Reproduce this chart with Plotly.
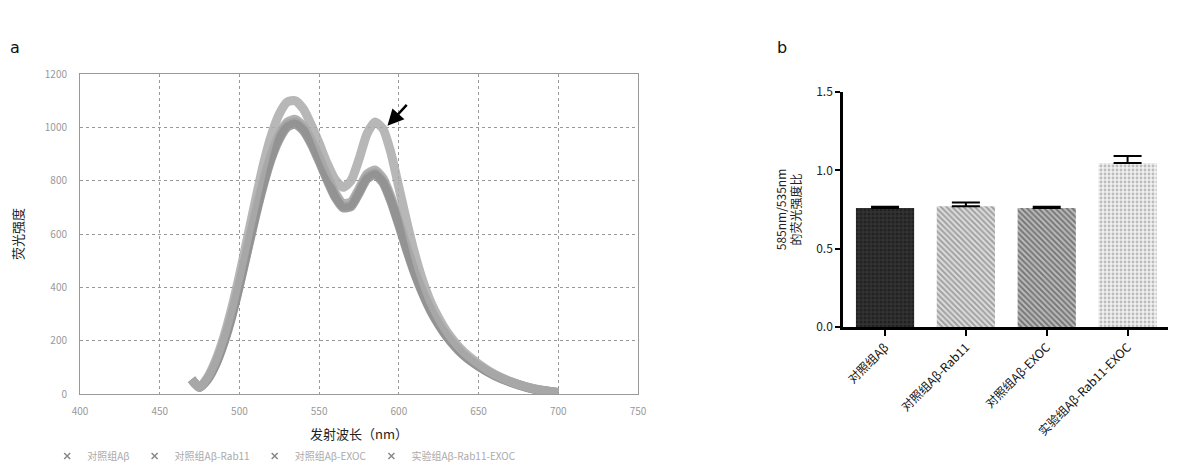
import plotly.graph_objects as go

W, H = 1180, 475

# ---------- panel a data ----------
wavelength = [470, 475, 480, 485, 490, 495, 500, 505, 510, 515, 520, 525, 530, 535, 540, 545, 550, 555,
              560, 565, 570, 575, 580, 585, 590, 595, 600, 605, 610, 615, 620, 625, 630, 640, 650,
              660, 670, 680, 690, 700]
ctrl_ab = [55, 25, 55, 110, 190, 290, 410, 540, 670, 790, 890, 965, 1010, 1020, 995, 945, 880, 810,
           745, 705, 710, 760, 815, 830, 800, 730, 640, 545, 455, 380, 315, 262, 218, 150, 105,
           70, 45, 26, 13, 6]
ctrl_ab_rab11 = [55, 25, 58, 115, 195, 295, 418, 548, 680, 800, 900, 975, 1020, 1030, 1005, 955, 890, 820,
                 755, 715, 720, 770, 825, 840, 810, 740, 648, 552, 462, 385, 320, 266, 222, 152, 107,
                 72, 46, 27, 14, 6]
ctrl_ab_exoc = [55, 25, 54, 108, 186, 285, 405, 535, 664, 782, 882, 955, 1000, 1012, 988, 938, 872, 802,
                738, 698, 702, 752, 806, 822, 792, 722, 632, 538, 450, 375, 311, 259, 215, 148, 103,
                69, 44, 25, 12, 5]
exp_ab_rab11_exoc = [55, 25, 62, 125, 210, 318, 445, 585, 725, 860, 970, 1050, 1095, 1100, 1070, 1010, 940, 865,
                     805, 775, 800, 880, 975, 1020, 995, 905, 775, 645, 525, 425, 345, 285, 235, 162, 113,
                     74, 47, 27, 13, 5]
series_names = ["对照组Aβ", "对照组Aβ-Rab11", "对照组Aβ-EXOC", "实验组Aβ-Rab11-EXOC"]
series_values = [ctrl_ab, ctrl_ab_rab11, ctrl_ab_exoc, exp_ab_rab11_exoc]
a_xticks = [400, 450, 500, 550, 600, 650, 700, 750]
a_yticks = [0, 200, 400, 600, 800, 1000, 1200]

# ---------- panel b data ----------
groups = ["对照组Aβ", "对照组Aβ-Rab11", "对照组Aβ-EXOC", "实验组Aβ-Rab11-EXOC"]
ratio = [0.76, 0.77, 0.76, 1.047]
ratio_err = [0.008, 0.025, 0.008, 0.045]
b_yticks = [0.0, 0.5, 1.0, 1.5]

fig = go.Figure()

line_colors = ["#9a9a9a", "#a5a5a5", "#909090", "#ababab"]
for name, vals, c in zip(series_names, series_values, line_colors):
    fig.add_trace(go.Scatter(x=wavelength, y=vals, mode="lines", name=name,
                             line=dict(color=c, width=9, shape="spline", smoothing=0.6),
                             opacity=0.85, showlegend=False, xaxis="x", yaxis="y"))
# legend entries (× markers)
for name in series_names:
    fig.add_trace(go.Scatter(x=[None], y=[None], mode="markers", name=name,
                             marker=dict(symbol="x-thin", size=6, color="#888",
                                         line=dict(color="#888", width=1.5)),
                             xaxis="x", yaxis="y", showlegend=True))

patterns = [
    dict(shape=".", fgcolor="#111", bgcolor="#333", size=4, solidity=0.5),
    dict(shape="\\", fgcolor="#666", bgcolor="#ddd", size=4, solidity=0.5),
    dict(shape="\\", fgcolor="#333", bgcolor="#bbb", size=4, solidity=0.5),
    dict(shape=".", fgcolor="#888", bgcolor="#f0f0f0", size=4, solidity=0.4),
]
for i, (g, v, e, p) in enumerate(zip(groups, ratio, ratio_err, patterns)):
    fig.add_trace(go.Bar(x=[i], y=[v], width=0.72, showlegend=False,
                         marker=dict(color=p["bgcolor"], pattern=p, line=dict(width=0)),
                         error_y=dict(type="data", array=[e], arrayminus=[0], symmetric=False,
                                      color="#000", thickness=2, width=14),
                         xaxis="x2", yaxis="y2"))

grid = dict(showgrid=True, gridcolor="#999", griddash="dot", gridwidth=1)

fig.update_layout(
    width=W, height=H, margin=dict(l=0, r=0, t=0, b=0, autoexpand=False),
    paper_bgcolor="white", plot_bgcolor="white",
    font=dict(family="Noto Sans CJK SC, sans-serif", color="#333"),
    showlegend=True,
    legend=dict(orientation="h", x=0.04, y=1 - 456 / H, xanchor="left", yanchor="middle",
                font=dict(size=10, color="#aaa"), itemwidth=30, tracegroupgap=0,
                bgcolor="rgba(0,0,0,0)"),
    xaxis=dict(domain=[80 / W, 638 / W], range=[400, 750], tickvals=a_xticks,
               ticks="", tickfont=dict(size=10, color="#999"), zeroline=False,
               showline=True, linecolor="#999", mirror=True, **grid, automargin=False,
               ticklabelstandoff=8,
               title=dict(text="发射波长（nm）", font=dict(size=13, color="#222"), standoff=12),
               anchor="y"),
    yaxis=dict(domain=[1 - 394 / H, 1 - 74 / H], range=[0, 1200], tickvals=a_yticks,
               ticks="", tickfont=dict(size=10, color="#999"), zeroline=False,
               showline=True, linecolor="#999", mirror=True, **grid, automargin=False,
               ticklabelstandoff=10,
               title=dict(text="荧光强度", font=dict(size=13, color="#222"), standoff=18),
               anchor="x"),
    xaxis2=dict(domain=[843 / W, 1168 / W], range=[-0.52, 3.5], tickvals=[0, 1, 2, 3],
                ticktext=groups, tickangle=-45, ticks="outside", ticklen=6, tickwidth=2,
                tickcolor="#000", showline=True, linecolor="#000", linewidth=2.5,
                showgrid=False, zeroline=False, tickfont=dict(size=12, color="#111"),
                automargin=False, anchor="y2"),
    yaxis2=dict(domain=[1 - 327 / H, 1 - 92 / H], range=[0, 1.5], tickvals=b_yticks,
                tickformat=".1f", ticks="outside", ticklen=5, tickwidth=2, tickcolor="#000",
                showline=True, linecolor="#000", linewidth=2.5, showgrid=False, zeroline=False,
                tickfont=dict(size=12, color="#222"), automargin=False,
                title=dict(text="585nm/535nm<br>的荧光强度比", font=dict(size=12, color="#222"),
                           standoff=12),
                anchor="x2"),
    bargap=0.28,
    annotations=[
        dict(text="a", x=15 / W, y=1 - 47 / H, xref="paper", yref="paper", showarrow=False,
             font=dict(size=16, color="#111", family="DejaVu Sans"), xanchor="center", yanchor="middle"),
        dict(text="b", x=782 / W, y=1 - 47 / H, xref="paper", yref="paper", showarrow=False,
             font=dict(size=16, color="#111", family="DejaVu Sans"), xanchor="center", yanchor="middle"),
        dict(x=592, y=1000, xref="x", yref="y", text="", showarrow=True, arrowhead=2,
             arrowsize=1.3, arrowwidth=2.5, arrowcolor="#000", ax=22, ay=-24, standoff=2),
    ],
)

fig.write_html("out.html", config={"displayModeBar": False},
               post_script="document.body.style.margin='0';document.body.style.padding='0';")
